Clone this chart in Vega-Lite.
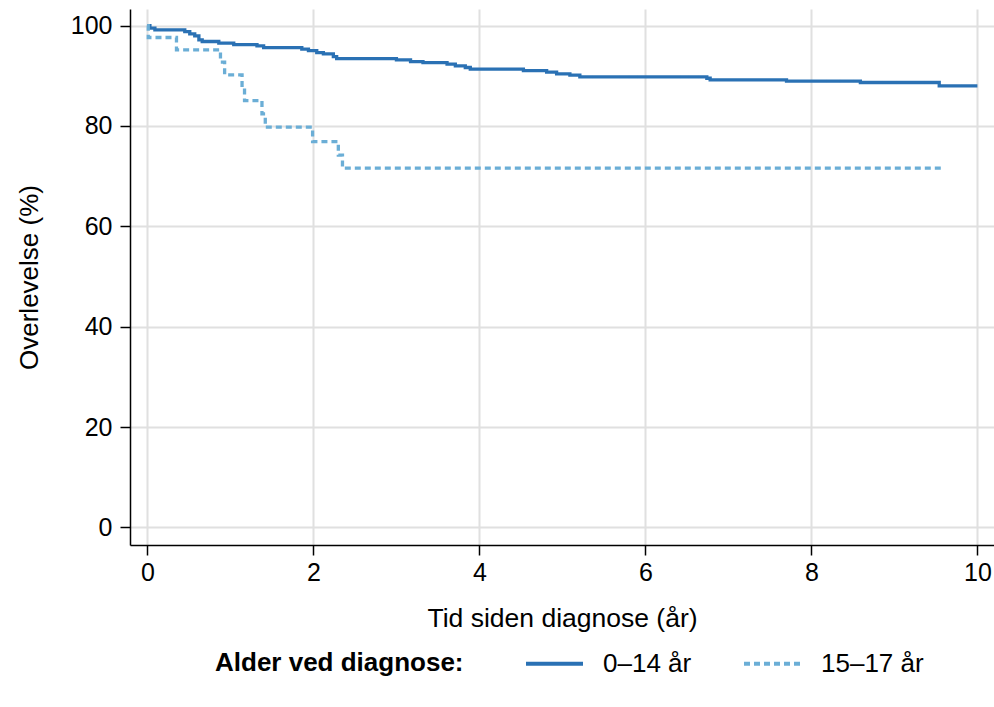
{
  "$schema": "https://vega.github.io/schema/vega-lite/v6.json",
  "width": 864,
  "height": 536,
  "autosize": {"type": "none"},
  "padding": {"left": 130, "top": 9, "right": 0, "bottom": 162},
  "background": "white",
  "config": {
    "font": "Liberation Sans",
    "view": {"stroke": null},
    "axis": {
      "domainColor": "black",
      "domainWidth": 1.5,
      "tickColor": "black",
      "tickWidth": 1.5,
      "tickSize": 10,
      "gridColor": "#e0e0e0",
      "gridWidth": 2,
      "labelFont": "Liberation Sans",
      "labelFontSize": 25,
      "labelColor": "black",
      "titleFont": "Liberation Sans",
      "titleFontSize": 26,
      "titleFontWeight": "normal",
      "titleColor": "black"
    },
    "legend": {
      "titleLimit": 500,
      "labelLimit": 300
    }
  },
  "data": {
    "values": [
      {"t": 0, "s": 100, "group": "0–14 år"},
      {"t": 0.03, "s": 99.47, "group": "0–14 år"},
      {"t": 0.09, "s": 99.14, "group": "0–14 år"},
      {"t": 0.45, "s": 98.81, "group": "0–14 år"},
      {"t": 0.51, "s": 98.35, "group": "0–14 år"},
      {"t": 0.57, "s": 97.95, "group": "0–14 år"},
      {"t": 0.62, "s": 97.15, "group": "0–14 år"},
      {"t": 0.66, "s": 96.82, "group": "0–14 år"},
      {"t": 0.86, "s": 96.49, "group": "0–14 år"},
      {"t": 1.04, "s": 96.22, "group": "0–14 år"},
      {"t": 1.32, "s": 95.95, "group": "0–14 år"},
      {"t": 1.4, "s": 95.62, "group": "0–14 år"},
      {"t": 1.86, "s": 95.29, "group": "0–14 år"},
      {"t": 1.94, "s": 95.02, "group": "0–14 år"},
      {"t": 2.04, "s": 94.62, "group": "0–14 år"},
      {"t": 2.12, "s": 94.36, "group": "0–14 år"},
      {"t": 2.24, "s": 93.83, "group": "0–14 år"},
      {"t": 2.28, "s": 93.43, "group": "0–14 år"},
      {"t": 3.0, "s": 93.17, "group": "0–14 år"},
      {"t": 3.17, "s": 92.83, "group": "0–14 år"},
      {"t": 3.32, "s": 92.6, "group": "0–14 år"},
      {"t": 3.61, "s": 92.3, "group": "0–14 år"},
      {"t": 3.71, "s": 91.97, "group": "0–14 år"},
      {"t": 3.83, "s": 91.64, "group": "0–14 år"},
      {"t": 3.89, "s": 91.31, "group": "0–14 år"},
      {"t": 4.53, "s": 91.04, "group": "0–14 år"},
      {"t": 4.81, "s": 90.71, "group": "0–14 år"},
      {"t": 4.93, "s": 90.38, "group": "0–14 år"},
      {"t": 5.09, "s": 90.11, "group": "0–14 år"},
      {"t": 5.21, "s": 89.78, "group": "0–14 år"},
      {"t": 6.74, "s": 89.5, "group": "0–14 år"},
      {"t": 6.78, "s": 89.18, "group": "0–14 år"},
      {"t": 7.7, "s": 88.91, "group": "0–14 år"},
      {"t": 8.59, "s": 88.65, "group": "0–14 år"},
      {"t": 9.54, "s": 87.98, "group": "0–14 år"},
      {"t": 10.0, "s": 87.98, "group": "0–14 år"},
      {"t": 0, "s": 100, "group": "15–17 år"},
      {"t": 0.01, "s": 97.62, "group": "15–17 år"},
      {"t": 0.35, "s": 95.16, "group": "15–17 år"},
      {"t": 0.88, "s": 92.7, "group": "15–17 år"},
      {"t": 0.93, "s": 90.18, "group": "15–17 år"},
      {"t": 1.14, "s": 87.6, "group": "15–17 år"},
      {"t": 1.17, "s": 85.06, "group": "15–17 år"},
      {"t": 1.38, "s": 82.4, "group": "15–17 år"},
      {"t": 1.42, "s": 79.75, "group": "15–17 år"},
      {"t": 1.99, "s": 76.89, "group": "15–17 år"},
      {"t": 2.3, "s": 74.2, "group": "15–17 år"},
      {"t": 2.35, "s": 71.58, "group": "15–17 år"},
      {"t": 9.59, "s": 71.58, "group": "15–17 år"}
    ]
  },
  "mark": {"type": "line", "interpolate": "step-after", "strokeWidth": 3.3, "clip": true},
  "encoding": {
    "x": {
      "field": "t",
      "type": "quantitative",
      "scale": {"domain": [-0.21, 10.2], "nice": false, "zero": false},
      "axis": {"values": [0, 2, 4, 6, 8, 10], "title": "Tid siden diagnose (år)", "labelPadding": 5, "titlePadding": 20, "titleFontSize": 26.5}
    },
    "y": {
      "field": "s",
      "type": "quantitative",
      "scale": {"domain": [-3.5, 103.3], "nice": false, "zero": false},
      "axis": {"values": [0, 20, 40, 60, 80, 100], "title": "Overlevelse (%)", "labelPadding": 8, "titlePadding": 28}
    },
    "color": {
      "field": "group",
      "type": "nominal",
      "scale": {"domain": ["0–14 år", "15–17 år"], "range": ["#2a71b4", "#6baed6"]},
      "legend": {
        "title": "Alder ved diagnose:",
        "orient": "none",
        "legendX": 85,
        "legendY": 624,
        "direction": "horizontal",
        "titleOrient": "left",
        "titleFontSize": 26,
        "titleFontWeight": "bold",
        "titleColor": "black",
        "titlePadding": 60,
        "titleBaseline": "line-top",
        "titleLineHeight": 16.5,
        "labelFontSize": 26,
        "labelColor": "black",
        "labelFont": "Liberation Sans",
        "titleFont": "Liberation Sans",
        "symbolType": "stroke",
        "symbolSize": 3249,
        "symbolStrokeWidth": 4,
        "labelOffset": 18,
        "columnPadding": 44
      }
    },
    "strokeDash": {
      "field": "group",
      "type": "nominal",
      "scale": {"domain": ["0–14 år", "15–17 år"], "range": [[1, 0], [6, 4]]},
      "legend": {
        "title": "Alder ved diagnose:",
        "orient": "none",
        "legendX": 85,
        "legendY": 624,
        "direction": "horizontal",
        "titleOrient": "left",
        "titleFontSize": 26,
        "titleFontWeight": "bold",
        "titleColor": "black",
        "titlePadding": 60,
        "titleBaseline": "line-top",
        "titleLineHeight": 16.5,
        "labelFontSize": 26,
        "labelColor": "black",
        "labelFont": "Liberation Sans",
        "titleFont": "Liberation Sans",
        "symbolType": "stroke",
        "symbolSize": 3249,
        "symbolStrokeWidth": 4,
        "labelOffset": 18,
        "columnPadding": 44
      }
    }
  }
}
